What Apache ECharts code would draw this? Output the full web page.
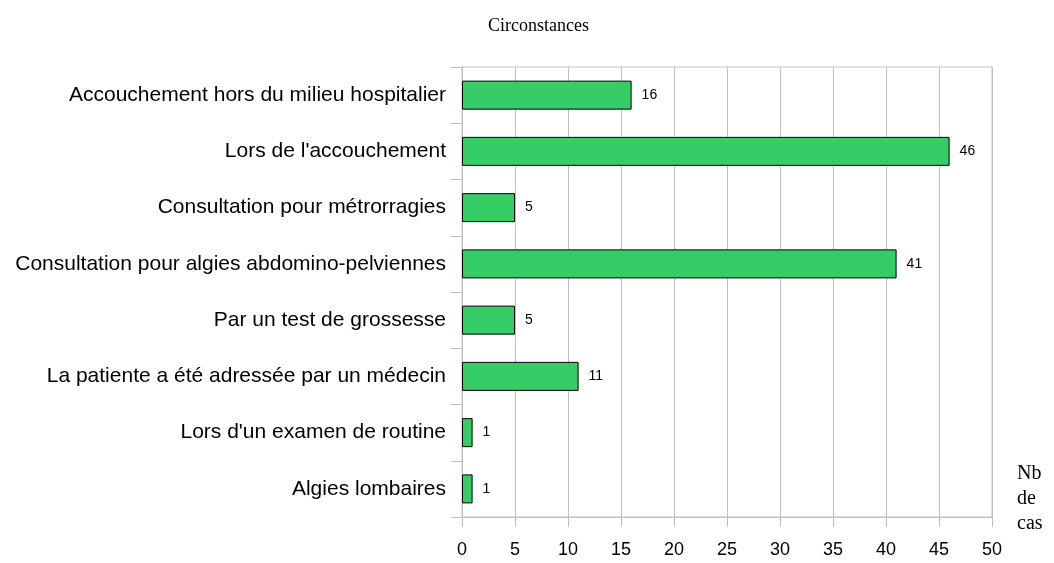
<!DOCTYPE html>
<html>
<head>
<meta charset="utf-8">
<script src="https://cdn.jsdelivr.net/npm/echarts@6/dist/echarts.min.js"></script>
<style>
  html, body { margin: 0; padding: 0; background: #fff; }
  #chart { width: 1054px; height: 563px; }
</style>
</head>
<body>
<div id="chart"></div>
<script>
// données
const categories = [
  "Accouchement hors du milieu hospitalier",
  "Lors de l'accouchement",
  "Consultation pour métrorragies",
  "Consultation pour algies abdomino-pelviennes",
  "Par un test de grossesse",
  "La patiente a été adressée par un médecin",
  "Lors d'un examen de routine",
  "Algies lombaires"
];
const nbCas = [16, 46, 5, 41, 5, 11, 1, 1];
const xTicks = [0, 5, 10, 15, 20, 25, 30, 35, 40, 45, 50];

const chart = echarts.init(document.getElementById("chart"));
const gridColor = "#c0c0c0";

const option = {
  animation: false,
  title: {
    text: "Circonstances",
    left: 483,
    top: 12,
    textStyle: {
      fontFamily: "Liberation Serif",
      fontWeight: "normal",
      fontSize: 18,
      color: "#000"
    }
  },
  grid: {
    left: 462,
    right: 62,
    top: 67,
    bottom: 46,
    show: true,
    borderColor: gridColor,
    borderWidth: 1
  },
  xAxis: {
    type: "value",
    min: xTicks[0],
    max: xTicks[xTicks.length - 1],
    interval: 5,
    axisLine: { show: true, lineStyle: { color: gridColor } },
    axisTick: { show: true, length: 10, lineStyle: { color: gridColor } },
    splitLine: { show: true, lineStyle: { color: gridColor } },
    axisLabel: {
      margin: 24,
      fontFamily: "Liberation Sans",
      fontSize: 18,
      color: "#000"
    }
  },
  yAxis: {
    type: "category",
    data: categories,
    inverse: true,
    axisLine: { show: true, lineStyle: { color: gridColor } },
    axisTick: { show: true, length: 11, lineStyle: { color: gridColor } },
    splitLine: { show: false },
    axisLabel: {
      margin: 16,
      fontFamily: "Liberation Sans",
      fontSize: 21,
      color: "#000"
    }
  },
  series: [{
    type: "bar",
    data: nbCas,
    barWidth: 29,
    itemStyle: {
      color: "#36cc66",
      borderColor: "#000",
      borderWidth: 1
    },
    label: {
      show: true,
      position: "right",
      distance: 10,
      fontFamily: "Liberation Sans",
      fontSize: 14,
      color: "#000"
    }
  }],
  graphic: [{
    type: "text",
    left: 1017,
    top: 461,
    style: {
      text: "Nb\nde\ncas",
      font: "20px 'Liberation Serif'",
      lineHeight: 25,
      fill: "#000"
    }
  }]
};

chart.setOption(option);
</script>
</body>
</html>
